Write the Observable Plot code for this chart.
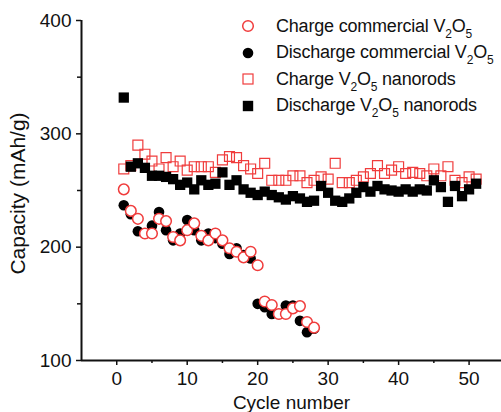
<!DOCTYPE html>
<html><head><meta charset="utf-8">
<script src="https://cdn.jsdelivr.net/npm/d3@7"></script>
<script src="https://cdn.jsdelivr.net/npm/@observablehq/plot@0.6"></script>
<style>
body{margin:0;background:#fff;font-family:Arial,"Liberation Sans",sans-serif}
#wrap{position:relative;width:501px;height:412px;overflow:hidden}
#legend{position:absolute;left:240px;top:13px;font-size:18px;color:#111;letter-spacing:-0.2px}
#legend .row{height:26.5px;display:flex;align-items:center;white-space:nowrap}
#legend svg{width:16px;height:16px;margin-right:20px;flex:none}
#legend sub{font-size:12px;vertical-align:-6px;line-height:0}
</style></head><body><div id="wrap"></div>
<script>
const RED = "#f03c3c";
const commercialCycles = [1,2,3,4,5,6,7,8,9,10,11,12,13,14,15,16,17,18,19,20,21,22,23,24,25,26,27,28];
const chargeCommercial = [251,232,225,212,212,225,223,209,206,215,221,210,206,212,206,199,196,191,196,184,152,149,141,141,146,148,134,129];
const dischargeCommercial = [237,229,214,212,219,231,215,206,212,224,215,206,212,208,203,194,199,193,190,150,147,141,141,148.5,148.5,135,125,128];
const nanorodCycles = [1,2,3,4,5,6,7,8,9,10,11,12,13,14,15,16,17,18,19,20,21,22,23,24,25,26,27,28,29,30,31,32,33,34,35,36,37,38,39,40,41,42,43,44,45,46,47,48,49,50,51];
const chargeNanorods = [269,272,290,282,276,269,279,271,276,268,271,271,271,266,277,280,279,272,269,265,274,259,259,259,263,263,257,259,262,260,274,257,257,259,262,265,272,265,268,271,265,266,265,263,269,263,271,259,257,262,260];
const dischargeNanorods = [332,271,274,270,263,263,262,260,255,257,251,259,255,256,266,255,259,251,248,246,249,246,244,242,245,243,240,241,254,248,241,240,243,248,253,249,254,251,250,249,251,249,251,250,259,253,240,254,245,251,256];
const xMajor = [0,10,20,30,40,50];
const xMinor = [5,15,25,35,45];
const yMajor = [100,200,300,400];
const yMinor = [150,250,350];

const dc = commercialCycles.map((c,i)=>({c, v: dischargeCommercial[i]}));
const cc = commercialCycles.map((c,i)=>({c, v: chargeCommercial[i]}));
const cn = nanorodCycles.map((c,i)=>({c, v: chargeNanorods[i]}));
const dn = nanorodCycles.map((c,i)=>({c, v: dischargeNanorods[i]}));

const font = "Arial, 'Liberation Sans', sans-serif";
const chart = Plot.plot({
  width: 501, height: 412,
  marginLeft: 81, marginRight: 0, marginTop: 20, marginBottom: 52,
  x: {domain: [-5, 54.6]},
  y: {domain: [100, 400]},
  style: {fontFamily: font, background: "white", color: "#111"},
  marks: [
    Plot.axisY({ticks: yMajor, tickSize: 5, tickPadding: 5, fontSize: 19, strokeWidth: 1.5, label: null}),
    Plot.axisY({ticks: yMinor, tickSize: 4, text: null, strokeWidth: 1.5, label: null}),
    Plot.axisX({ticks: xMajor, tickSize: 5, tickPadding: 6, fontSize: 19, strokeWidth: 1.5, label: null}),
    Plot.axisX({ticks: xMinor, tickSize: 3, text: null, strokeWidth: 1.5, label: null}),
    Plot.ruleX([-5], {stroke: "#111", strokeWidth: 2}),
    Plot.ruleY([100], {stroke: "#111", strokeWidth: 2}),
    Plot.dot(dc, {x: "c", y: "v", r: 5.3, fill: "#000", stroke: "none"}),
    Plot.dot(cc, {x: "c", y: "v", r: 5.3, fill: "white", stroke: RED, strokeWidth: 1.5}),
    Plot.dot(cn, {x: "c", y: "v", r: 5.6, symbol: "square", fill: "none", stroke: RED, strokeWidth: 1.2}),
    Plot.dot(dn, {x: "c", y: "v", r: 5.8, symbol: "square", fill: "#000", stroke: "none"}),
    Plot.text(["Cycle number"], {frameAnchor: "bottom", dy: 42, fontSize: 19, fill: "#111", lineAnchor: "middle"}),
    Plot.text(["Capacity (mAh/g)"], {frameAnchor: "left", textAnchor: "middle", dx: -63, dy: 3, rotate: -90, fontSize: 21, fill: "#111"})
  ]
});
const wrap = document.getElementById("wrap");
wrap.appendChild(chart);

const V = '<span>V<sub>2</sub>O<sub>5</sub></span>';
const icons = [
  `<svg viewBox="-8 -8 16 16"><circle r="5.3" fill="white" stroke="${RED}" stroke-width="1.5"/></svg>`,
  `<svg viewBox="-8 -8 16 16"><circle r="5.3" fill="#000"/></svg>`,
  `<svg viewBox="-8 -8 16 16"><rect x="-5" y="-5" width="10" height="10" fill="none" stroke="${RED}" stroke-width="1.2"/></svg>`,
  `<svg viewBox="-8 -8 16 16"><rect x="-5.2" y="-5.2" width="10.4" height="10.4" fill="#000"/></svg>`
];
const labels = [
  `Charge commercial ${V}`,
  `Discharge commercial ${V}`,
  `Charge ${V} nanorods`,
  `Discharge ${V} nanorods`
];
const leg = document.createElement("div");
leg.id = "legend";
leg.innerHTML = labels.map((l,i)=>`<div class="row">${icons[i]}<span>${l}</span></div>`).join("");
wrap.appendChild(leg);
</script></body></html>
